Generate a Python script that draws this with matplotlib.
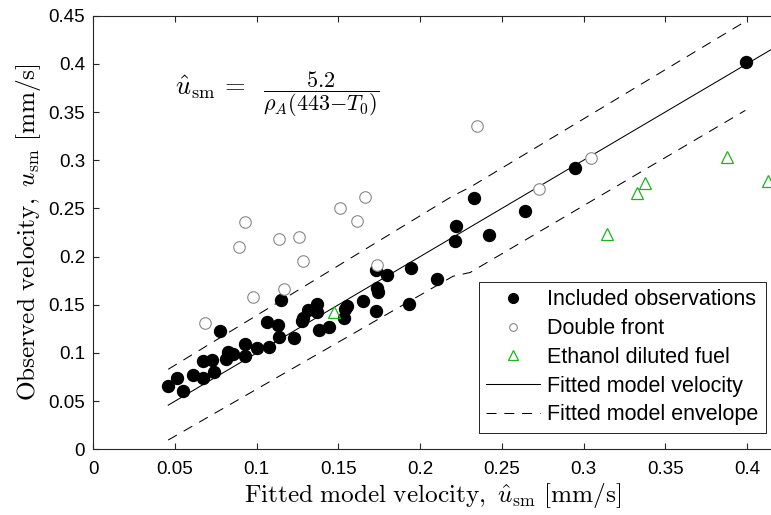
import matplotlib.pyplot as plt
from matplotlib.lines import Line2D
import numpy as np

plt.rcParams['font.family'] = ['Liberation Sans', 'DejaVu Sans']
plt.rcParams['mathtext.fontset'] = 'cm'

# included observations (fitted, observed) [mm/s]
inc_x = [0.0458, 0.0509, 0.0550, 0.0611, 0.0668, 0.0672, 0.0723, 0.0739, 0.0774,
         0.0811, 0.0825, 0.0852, 0.0927, 0.0927, 0.0999, 0.1060, 0.1076, 0.1130,
         0.1137, 0.1151, 0.1227, 0.1274, 0.1284, 0.1314, 0.1366, 0.1366, 0.1382,
         0.1441, 0.1533, 0.1540, 0.1550, 0.1650, 0.1729, 0.1733, 0.1739, 0.1729,
         0.1794, 0.1929, 0.1943, 0.2100, 0.2212, 0.2218, 0.2328, 0.2420, 0.2640,
         0.2950, 0.3996]
inc_y = [0.0657, 0.0736, 0.0608, 0.0771, 0.0743, 0.0919, 0.0926, 0.0805, 0.1227,
         0.0933, 0.1012, 0.0985, 0.1092, 0.0968, 0.1048, 0.1324, 0.1058, 0.1290,
         0.1162, 0.1548, 0.1150, 0.1334, 0.1358, 0.1445, 0.1507, 0.1427, 0.1237,
         0.1272, 0.1365, 0.1460, 0.1486, 0.1540, 0.1434, 0.1676, 0.1635, 0.1860,
         0.1808, 0.1507, 0.1877, 0.1770, 0.2164, 0.2320, 0.2610, 0.2226, 0.2470,
         0.2914, 0.4014]

# double front
dbl_x = [0.0681, 0.0889, 0.0927, 0.0978, 0.1137, 0.1166, 0.1260, 0.1280, 0.1508,
         0.1612, 0.1661, 0.1737, 0.2348, 0.2727, 0.3048]
dbl_y = [0.131, 0.210, 0.236, 0.158, 0.218, 0.166, 0.2205, 0.1956, 0.2506,
         0.2365, 0.262, 0.191, 0.336, 0.2697, 0.3019]

# ethanol diluted fuel
eth_x = [0.1472, 0.3143, 0.3327, 0.3376, 0.3875, 0.4128]
eth_y = [0.1427, 0.223, 0.2656, 0.2766, 0.3029, 0.2787]

# fitted model line and envelope
fit_x = [0.0458, 0.42]
env_x = [0.0458, 0.2200, 0.2306, 0.3990]
env_hi = [0.083, 0.263, 0.272, 0.444]
env_lo = [0.0096, 0.1795, 0.1835, 0.3517]

green = '#1db31d'
dash = (9.6, 7.5)

fig = plt.figure(figsize=(7.71, 5.15), dpi=100)
ax = fig.add_axes([0.1211, 0.1276, 0.8789, 0.842])

ax.plot(fit_x, fit_x, '-', color='k', lw=0.75, zorder=1)
ax.plot(env_x, env_hi, '--', color='k', lw=0.75, dashes=dash, zorder=1)
ax.plot(env_x, env_lo, '--', color='k', lw=0.75, dashes=dash, zorder=1)
ax.plot(inc_x, inc_y, 'o', color='k', ms=8.6, zorder=2)
ax.plot(dbl_x, dbl_y, 'o', mfc='white', mec='#888888', mew=0.8, ms=8.3, zorder=3)
ax.plot(eth_x, eth_y, '^', mfc='none', mec=green, mew=0.9, ms=9, zorder=4)

ax.set_xlim(0, 0.4147)
ax.set_ylim(0, 0.45)
ax.set_xticks(np.arange(0, 0.41, 0.05))
ax.set_yticks(np.arange(0, 0.451, 0.05))
ax.set_xticklabels(['0', '0.05', '0.1', '0.15', '0.2', '0.25', '0.3', '0.35', '0.4'])
ax.set_yticklabels(['0', '0.05', '0.1', '0.15', '0.2', '0.25', '0.3', '0.35', '0.4', '0.45'])
ax.tick_params(direction='in', length=4, width=0.8, top=True, right=False,
               labelsize=13.5, color='#262626')
ax.tick_params(axis='x', pad=8.5)
ax.tick_params(axis='y', pad=6)
ax.spines['right'].set_visible(False)
for s in ['left', 'bottom', 'top']:
    ax.spines[s].set_linewidth(0.8)
    ax.spines[s].set_color('#262626')

ax.set_xlabel(r'$\mathrm{Fitted\ model\ velocity,}\ \hat{u}_{\mathrm{sm}}\ [\mathrm{mm/s}]$',
              fontsize=18.2, labelpad=2)
ax.set_ylabel(r'$\mathrm{Observed\ velocity,}\ u_{\mathrm{sm}}\ [\mathrm{mm/s}]$',
              fontsize=18.2, labelpad=4)

# model equation
ax.text(0.0499, 0.376, r'$\hat{u}_{\mathrm{sm}}\, =$', fontsize=19, ha='left', va='center')
ax.text(0.1037, 0.3686, r'$\dfrac{5.2}{\rho_A(443{-}T_0)}$', fontsize=16,
        ha='left', va='center')

handles = [
    Line2D([], [], ls='none', marker='o', color='k', ms=7),
    Line2D([], [], ls='none', marker='o', mfc='white', mec='#888888', mew=0.8, ms=5.5),
    Line2D([], [], ls='none', marker='^', mfc='none', mec=green, mew=0.9, ms=6.5),
    Line2D([], [], ls='-', color='k', lw=0.75),
    Line2D([], [], ls='--', color='k', lw=0.75, dashes=dash),
]
labels = ['Included observations', 'Double front', 'Ethanol diluted fuel',
          'Fitted model velocity', 'Fitted model envelope']
leg = ax.legend(handles, labels, loc='lower right', bbox_to_anchor=(0.9926, 0.0376),
                borderaxespad=0, fontsize=15.5, handlelength=2.5, handletextpad=0.33,
                borderpad=0.35, labelspacing=0.36, fancybox=False, framealpha=1,
                edgecolor='k')
leg.get_frame().set_linewidth(0.6)

plt.savefig('out.png', dpi=100)
